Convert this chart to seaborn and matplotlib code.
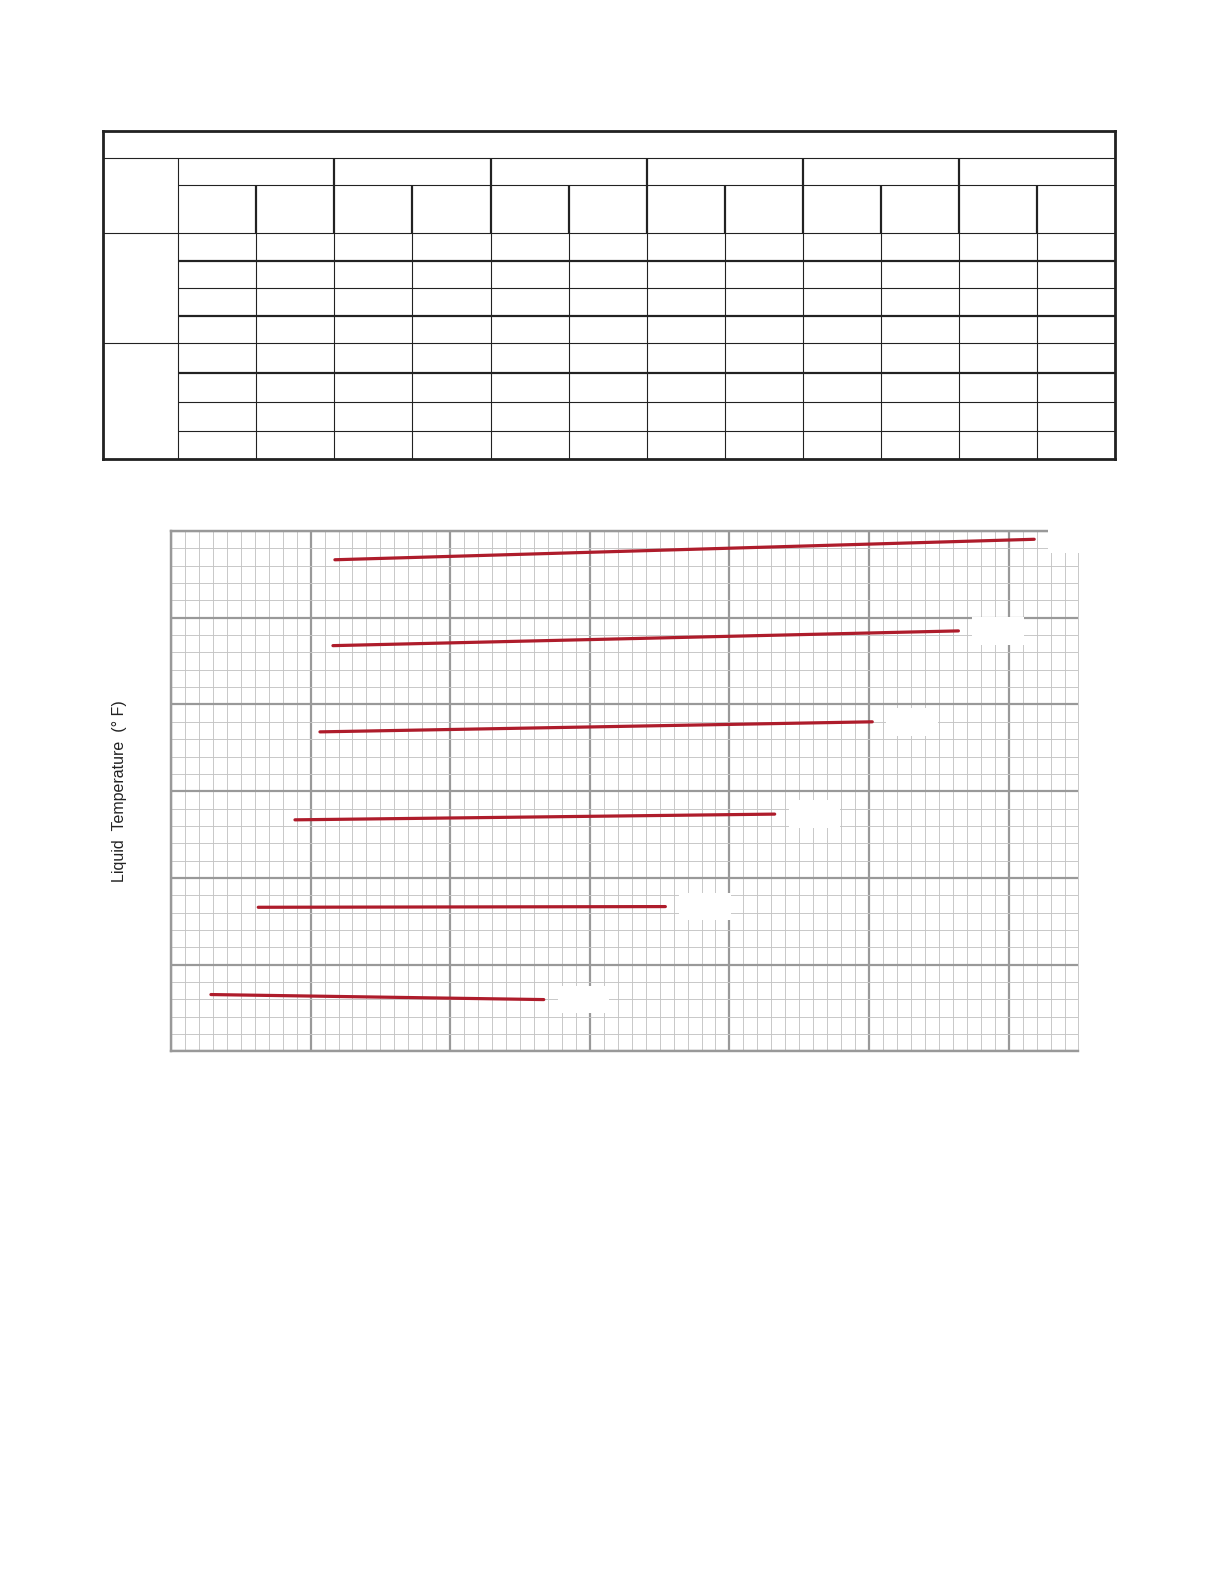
import matplotlib
matplotlib.use("Agg")
import matplotlib.pyplot as plt
import numpy as np
import pandas as pd
import seaborn as sns
from matplotlib.patches import Rectangle
from matplotlib.ticker import MultipleLocator

# --- chart data (grid units: x minor = 1, y minor = 1) ---
line_ids = ["A", "B", "C", "D", "E", "F"]
x_start = [11.74, 11.60, 10.67, 8.88, 6.25, 2.86]
y_start = [28.34, 23.39, 18.42, 13.35, 8.31, 3.28]
x_end = [61.83, 56.40, 50.23, 43.24, 35.41, 26.70]
y_end = [29.52, 24.24, 19.00, 13.68, 8.35, 2.99]
y_label = "Liquid  Temperature  (° F)"

# --- blank form table layout (pixel-like units) ---
first_col_w = 75.6
n_sub_cols = 12
sub_col_w = 78.06
row_heights = [27.3, 27.0, 48.0, 27.4, 27.6, 27.4, 27.6, 29.4, 29.6, 29.0, 27.7]
data_row_rules = ["thick", "thin", "thick", "group", "thick", "thin", "thin"]

RED = "#ae1c2b"
INK = "#222222"

sns.set_theme(style="white")
plt.rcParams["font.family"] = ["Liberation Sans", "DejaVu Sans"]

fig = plt.figure(figsize=(8.5, 11), dpi=144)

# ---------------- table ----------------
col_edges = np.concatenate([[0, first_col_w], first_col_w + sub_col_w * np.arange(1, n_sub_cols + 1)])
row_edges = np.concatenate([[0], np.cumsum(row_heights)])
tw, th = col_edges[-1], row_edges[-1]

tax = fig.add_axes([0.0839, 0.7102, 0.8271, 0.2071])
tax.set_xlim(0, tw)
tax.set_ylim(th, 0)
tax.set_xticks([])
tax.set_yticks([])
for s in tax.spines.values():
    s.set_color(INK)
    s.set_linewidth(1.4)

thin, thick = 0.55, 1.1
x0 = col_edges[1]
tax.hlines(row_edges[1], 0, tw, color=INK, lw=thin)
tax.hlines(row_edges[2], x0, tw, color=INK, lw=thin)
tax.hlines(row_edges[3], 0, tw, color=INK, lw=thin)
for edge, rule in zip(row_edges[4:-1], data_row_rules):
    if rule == "group":
        tax.hlines(edge, 0, tw, color=INK, lw=thin)
    else:
        tax.hlines(edge, x0, tw, color=INK, lw=thick if rule == "thick" else thin)

tax.vlines(x0, row_edges[1], th, color=INK, lw=thin)
for k in range(2, n_sub_cols + 1):
    xe = col_edges[k]
    top = row_edges[1] if k % 2 == 1 else row_edges[2]
    tax.vlines(xe, top, row_edges[3], color=INK, lw=thick)
    tax.vlines(xe, row_edges[3], th, color=INK, lw=thin)

# ---------------- chart ----------------
ax = fig.add_axes([0.1397, 0.3362, 0.7414, 0.3286])

lines_df = pd.DataFrame({
    "line": line_ids * 2,
    "x": x_start + x_end,
    "y": y_start + y_end,
})
sns.lineplot(data=lines_df, x="x", y="y", units="line", estimator=None,
             sort=False, color=RED, lw=1.6, ax=ax, zorder=4)

ax.set_xlim(0, 65)
ax.set_ylim(0, 30)
ax.xaxis.set_major_locator(MultipleLocator(10))
ax.xaxis.set_minor_locator(MultipleLocator(1))
ax.yaxis.set_major_locator(MultipleLocator(5))
ax.yaxis.set_minor_locator(MultipleLocator(1))
ax.grid(which="minor", color="#c4c4c4", lw=0.45)
ax.grid(which="major", color="#999999", lw=1.1)
ax.set_axisbelow(True)
ax.tick_params(which="both", length=0, labelbottom=False, labelleft=False)
ax.set_xlabel("")
ax.set_ylabel(y_label, fontsize=8, labelpad=22, color="#222222")

for side in ["left", "bottom", "top"]:
    ax.spines[side].set_color("#999999")
    ax.spines[side].set_linewidth(1.2)
ax.spines["right"].set_color("#c4c4c4")
ax.spines["right"].set_linewidth(0.45)

# white label boxes (text erased) just past each line end
box_dx, box_w, box_h = 1.0, 3.7, 1.6
for xe, ye in zip(x_end, y_end):
    ax.add_patch(Rectangle((xe + box_dx, ye - box_h / 2), box_w, box_h,
                           facecolor="white", edgecolor="none",
                           zorder=3, clip_on=False))

fig.savefig("out.png", dpi=144)
